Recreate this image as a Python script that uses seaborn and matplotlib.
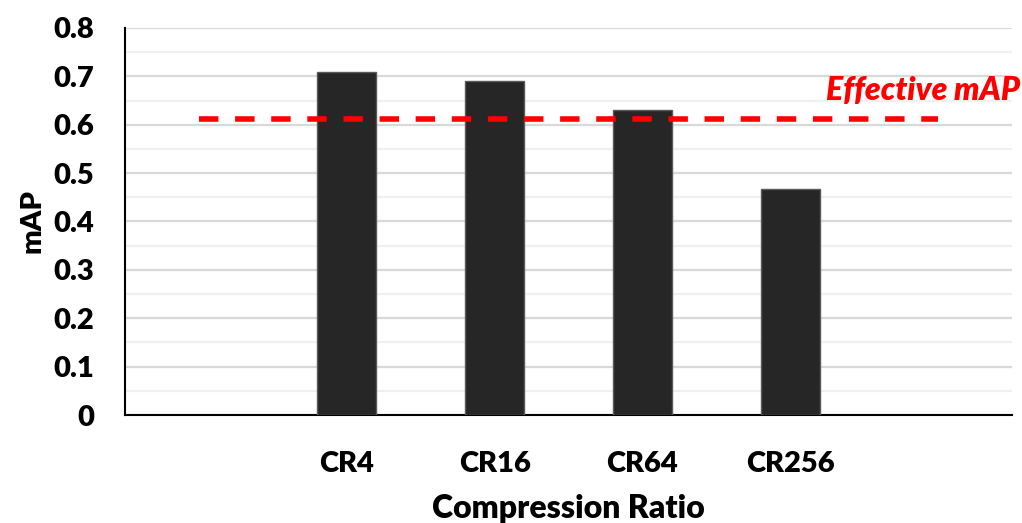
import matplotlib
matplotlib.use("Agg")
import matplotlib.pyplot as plt
import seaborn as sns
import pandas as pd
from matplotlib.ticker import MultipleLocator

# Detection accuracy at each compression ratio
ratios = ["CR4", "CR16", "CR64", "CR256"]
map_values = [0.71, 0.69, 0.63, 0.467]
effective_map = 0.612
y_ticks = [0, 0.1, 0.2, 0.3, 0.4, 0.5, 0.6, 0.7, 0.8]

WEIGHT = "heavy"

sns.set_theme(style="white")
plt.rcParams["font.family"] = ["Lato", "DejaVu Sans"]
plt.rcParams["font.weight"] = WEIGHT

df = pd.DataFrame({"ratio": ratios, "mAP": map_values})

fig = plt.figure(figsize=(10.22, 5.23), dpi=100)
ax = fig.add_axes([0.1223, 0.2065, 0.8679, 0.74])

sns.barplot(data=df, x="ratio", y="mAP", order=ratios, color="#262626",
            width=0.4, edgecolor="#5a5a5a", linewidth=1.0, saturation=1,
            ax=ax, zorder=3)

# Effective mAP threshold spanning the padded category range
ax.plot([-1, len(ratios)], [effective_map, effective_map], color="#ff0000",
        linestyle=(0, (3.5, 3.0)), linewidth=4, zorder=4)
fig.text(0.998, 1 - 90 / 523, "Effective mAP", color="#ff0000",
         fontsize=23, fontweight=WEIGHT, fontstyle="italic",
         ha="right", va="center")

ax.set_xlim(-1.5, len(ratios) + 0.5)
ax.set_ylim(0, 0.8)
ax.set_yticks(y_ticks)
ax.set_yticklabels([f"{t:g}" for t in y_ticks])
ax.yaxis.set_minor_locator(MultipleLocator(0.05))
ax.grid(axis="y", which="major", color="#d9d9d9", linewidth=1.6, zorder=0)
ax.grid(axis="y", which="minor", color="#f0f0f0", linewidth=1.6, zorder=0)
ax.set_axisbelow(True)

for side in ["top", "right"]:
    ax.spines[side].set_visible(False)
ax.spines["left"].set_color("#000000")
ax.spines["left"].set_linewidth(1.5)
ax.spines["bottom"].set_color("#000000")
ax.spines["bottom"].set_linewidth(1.5)

ax.tick_params(axis="both", which="both", length=0, labelsize=21,
               labelcolor="#000000")
ax.tick_params(axis="x", pad=26)
ax.tick_params(axis="y", pad=22)
for lbl in ax.get_xticklabels() + ax.get_yticklabels():
    lbl.set_fontweight(WEIGHT)

ax.set_xlabel("Compression Ratio", fontsize=23, fontweight=WEIGHT,
              color="#000000", labelpad=12)
ax.set_ylabel("mAP", fontsize=21, fontweight=WEIGHT, color="#000000",
              labelpad=6)

fig.savefig("out.png", dpi=100, facecolor="white")
